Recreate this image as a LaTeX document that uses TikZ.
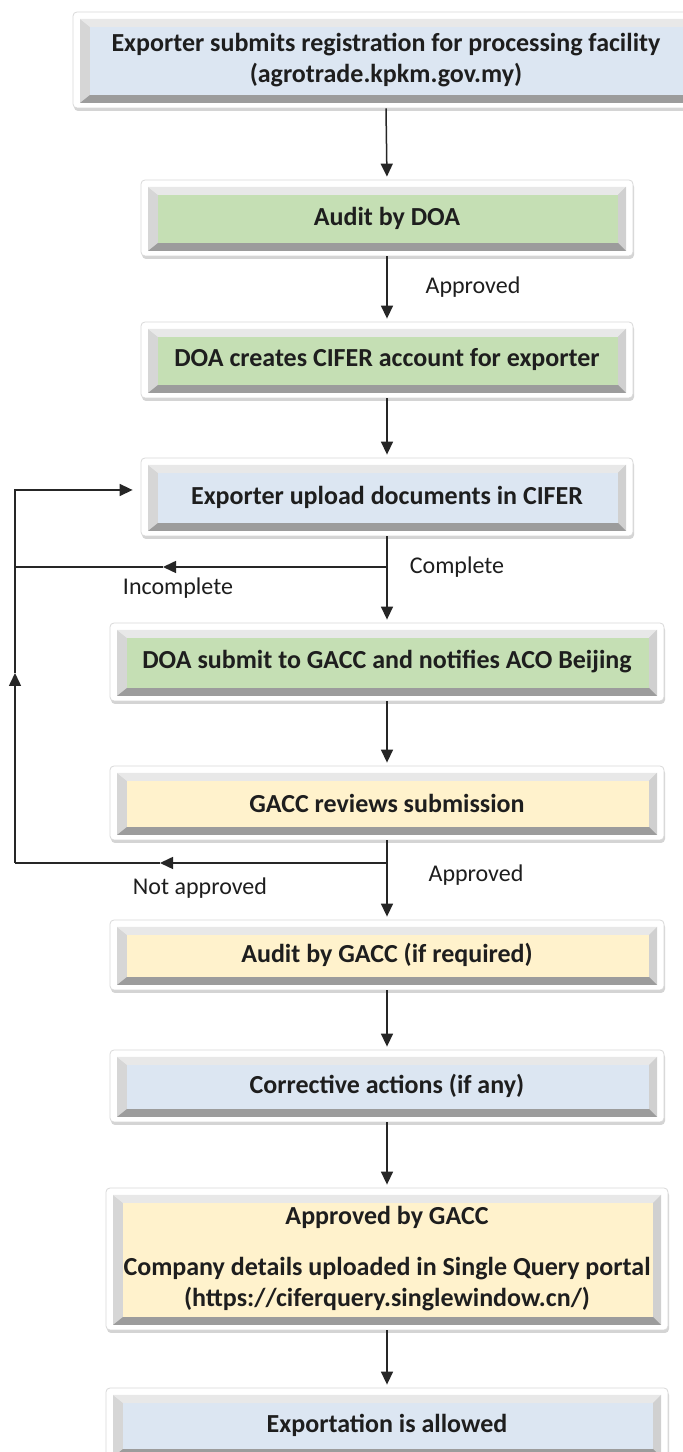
\documentclass[tikz,border=0pt]{standalone}
\usepackage{fontspec}
\setmainfont{Carlito}
\usetikzlibrary{arrows.meta,calc,shadows}
\definecolor{cblue}{HTML}{DCE6F2}
\definecolor{cgreen}{HTML}{C5DFB4}
\definecolor{cyellow}{HTML}{FFF2CC}
\definecolor{txt}{HTML}{1E1E1E}
\definecolor{bevtop}{HTML}{E8E8E8}
\definecolor{bevleft}{HTML}{D6D6D6}
\definecolor{bevright}{HTML}{D0D0D0}
\definecolor{bevbot}{HTML}{9C9C9C}
\definecolor{lncol}{HTML}{262626}
\newcommand{\boxfont}{\fontsize{26}{31}\selectfont\bfseries}
\newcommand{\labfont}{\fontsize{24}{28}\selectfont}
\tikzset{
  boxcol/.store in=\boxcol, boxcol=white,
  fbox/.style={
    draw=black!15, line width=0.8pt, fill=white, rounded corners=4pt,
    drop shadow={shadow xshift=1pt, shadow yshift=-3pt, opacity=0.3, fill=black!55},
    inner sep=0pt, align=center, font=\boxfont, text=txt,
    path picture={
      \path let \p1=(path picture bounding box.south west),
                \p2=(path picture bounding box.north east) in
        (\x1+7,\y1+5) coordinate (ba)
        (\x2-7,\y2-7) coordinate (bb)
        (\x1+17,\y1+13) coordinate (ia)
        (\x2-15,\y2-15) coordinate (ib);
      \fill[sharp corners, bevleft] (ba) rectangle (bb);
      \fill[sharp corners, bevtop] (ba|-bb) -- (bb) -- (ib) -- (ia|-ib) -- cycle;
      \fill[sharp corners, bevright] (bb) -- (bb|-ba) -- (ib|-ia) -- (ib) -- cycle;
      \fill[sharp corners, bevbot] (ba) -- (bb|-ba) -- (ib|-ia) -- (ia) -- cycle;
      \fill[sharp corners, fill=\boxcol] (ia) rectangle (ib);
    }
  },
  conn/.style={line width=1.5pt, draw=lncol},
  arrowline/.style={conn, -{Triangle[length=13pt,width=12pt]}},
  lab/.style={font=\labfont, text=txt, inner sep=0pt},
}
\begin{document}
\begin{tikzpicture}[x=1pt,y=1pt]
\useasboundingbox (0,0) rectangle (683,1452);
\fill[white] (0,0) rectangle (683,1452);

\node[fbox, boxcol=cblue, minimum width=626, minimum height=96] (b1) at (386,1392)
  {Exporter submits registration for processing facility\\(agrotrade.kpkm.gov.my)};
\node[fbox, boxcol=cgreen, minimum width=492, minimum height=76] (b2) at (387,1234) {Audit by DOA};
\node[fbox, boxcol=cgreen, minimum width=492, minimum height=76] (b3) at (387,1092) {DOA creates CIFER account for exporter};
\node[fbox, boxcol=cblue, minimum width=492, minimum height=78] (b4) at (387,955) {Exporter upload documents in CIFER};
\node[fbox, boxcol=cgreen, minimum width=554, minimum height=78] (b5) at (387,790) {DOA submit to GACC and notifies ACO Beijing};
\node[fbox, boxcol=cyellow, minimum width=554, minimum height=74] (b6) at (387,649) {GACC reviews submission};
\node[fbox, boxcol=cyellow, minimum width=554, minimum height=70] (b7) at (387,497) {Audit by GACC (if required)};
\node[fbox, boxcol=cblue, minimum width=554, minimum height=72] (b8) at (387,366) {Corrective actions (if any)};
\node[fbox, boxcol=cyellow, minimum width=562, minimum height=142] (b9) at (387,193)
  {Approved by GACC\\[20pt]Company details uploaded in Single Query portal\\(https://ciferquery.singlewindow.cn/)};
\node[fbox, boxcol=cblue, minimum width=562, minimum height=74] (b10) at (387,27) {Exportation is allowed};

% labels
\node[lab] (l1) at (473,1165) {Approved};
\node[lab] (l2) at (457,885) {Complete};
\node[lab] (l3) at (178,864) {Incomplete};
\node[lab] (l4) at (476,577) {Approved};
\node[lab] (l5) at (200,564) {Not approved};

% main connectors
\draw[arrowline, shorten >=3pt] (b1.south) -- (b2.north);
\draw[arrowline, shorten >=3pt] (b2.south) -- (b3.north);
\draw[arrowline, shorten >=3pt] (b3.south) -- (b4.north);
\draw[arrowline, shorten >=3pt] (b4.south) -- (b5.north);
\draw[arrowline, shorten >=3pt] (b5.south) -- (b6.north);
\draw[arrowline, shorten >=3pt] (b6.south) -- (b7.north);
\draw[arrowline, shorten >=3pt] (b7.south) -- (b8.north);
\draw[arrowline, shorten >=3pt] (b8.south) -- (b9.north);
\draw[arrowline, shorten >=3pt] (b9.south) -- (b10.north);

% loop back
\coordinate (inc) at (b4.south |- 0,885);
\coordinate (incM) at (163,885);
\coordinate (incL) at (15,885);
\coordinate (nap) at (b6.south |- 0,589);
\coordinate (napM) at (160,589);
\coordinate (napL) at (15,589);
\coordinate (upM) at (15,779);
\coordinate (topL) at (15,962);
\draw[arrowline] (inc) -- (incM);
\draw[conn] (incM) -- (incL);
\draw[arrowline] (nap) -- (napM);
\draw[conn] (napM) -- (napL);
\draw[arrowline] (napL) -- (upM);
\draw[arrowline, shorten >=8pt] (upM) -- (topL) -- ([yshift=7pt]b4.west);
\end{tikzpicture}
\end{document}
